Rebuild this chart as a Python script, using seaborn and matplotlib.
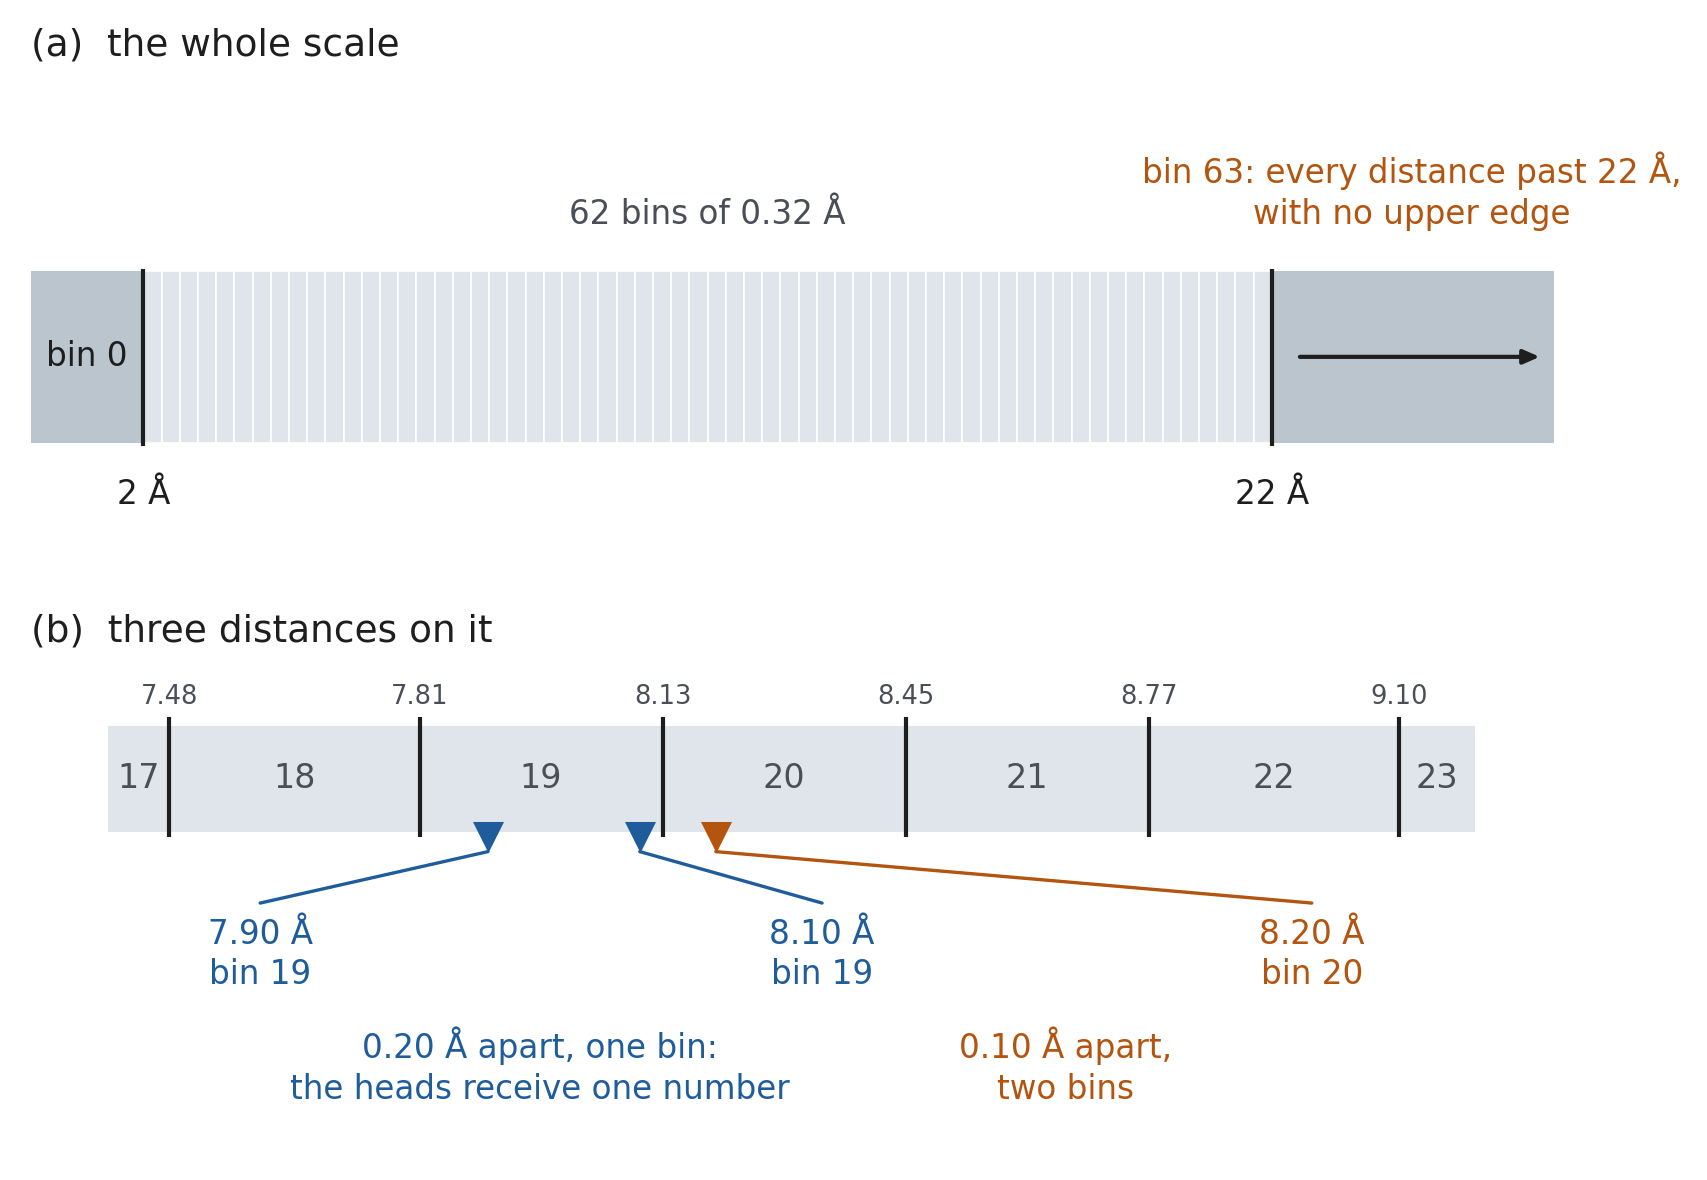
import matplotlib
matplotlib.use("Agg")
import matplotlib.pyplot as plt
import seaborn as sns
from matplotlib.patches import Rectangle

sns.set_theme(style="white")
plt.rcParams['font.family'] = ['DejaVu Sans']

# ---- data ----
lo_edge = 2.0
hi_edge = 22.0
n_inner_bins = 62
bin_width = (hi_edge - lo_edge) / n_inner_bins
zoom_bins = [17, 18, 19, 20, 21, 22, 23]
zoom_edges = [7.48, 7.81, 8.13, 8.45, 8.77, 9.10]
edge_labels = ["7.48", "7.81", "8.13", "8.45", "8.77", "9.10"]
distances = [7.90, 8.10, 8.20]
dist_bins = [19, 19, 20]
dist_label_x = [7.60, 8.34, 8.985]

BLUE = "#1f5c9c"
ORANGE = "#b3540f"
DARK = "#1e1e1e"
GRAY = "#4a4f57"
LIGHT = "#dfe5ea"
MID = "#bac5cd"
dcol = [BLUE, BLUE, ORANGE]

W, H = 1560, 1078  # layout coordinate frame
fig = plt.figure(figsize=(17.07, 11.8), dpi=100)
FS = 23.5

def px_axes(x0, x1, y0, y1):
    ax = fig.add_axes([x0 / W, 1 - y1 / H, (x1 - x0) / W, (y1 - y0) / H])
    ax.set_ylim(y1, y0)
    ax.axis("off")
    return ax

# ---- panel (a) ----
fig.text(28 / W, 1 - 42 / H, "(a)  the whole scale", fontsize=27, color=DARK, va="center")
axa = px_axes(28, 1420, 100, 480)
axa.set_xlim(0, 27)
top, bot = 248, 405
axa.add_patch(Rectangle((0, top), lo_edge, bot - top, fc=MID, ec="none"))
axa.add_patch(Rectangle((hi_edge, top), 27 - hi_edge, bot - top, fc=MID, ec="none"))
for i in range(n_inner_bins):
    axa.add_patch(Rectangle((lo_edge + i * bin_width, top), bin_width, bot - top,
                            fc=LIGHT, ec="white", lw=1.2))
for e in (lo_edge, hi_edge):
    axa.plot([e, e], [top - 2, bot + 2], color=DARK, lw=3, solid_capstyle="butt")
axa.annotate("", xy=(26.8, 326), xytext=(22.45, 326),
             arrowprops=dict(arrowstyle="-|>,head_length=0.8,head_width=0.35", color=DARK, lw=3))
axa.text(1.0, 326, "bin 0", fontsize=FS, color=DARK, ha="center", va="center")
axa.text(lo_edge, 452, "2 Å", fontsize=FS, color=DARK, ha="center", va="center")
axa.text(hi_edge, 452, "22 Å", fontsize=FS, color=DARK, ha="center", va="center")
axa.text(12.0, 196, "62 bins of 0.32 Å", fontsize=FS, color=GRAY, ha="center", va="center")
axa.text(24.48, 175, "bin 63: every distance past 22 Å,\nwith no upper edge", fontsize=FS,
         color=ORANGE, ha="center", va="center", linespacing=1.3)

# ---- panel (b) ----
fig.text(28 / W, 1 - 577 / H, "(b)  three distances on it", fontsize=27, color=DARK, va="center")
axb = px_axes(99, 1348, 610, 1060)
axb.set_xlim(7.40, 9.20)
top, bot = 663, 760
axb.add_patch(Rectangle((7.40, top), 1.80, bot - top, fc=LIGHT, ec="none"))
bounds = [7.40] + zoom_edges + [9.20]
for b, l, r in zip(zoom_bins, bounds[:-1], bounds[1:]):
    axb.text((l + r) / 2, 711, str(b), fontsize=24, color=GRAY, ha="center", va="center")
for e, lab in zip(zoom_edges, edge_labels):
    axb.plot([e, e], [655, 765], color=DARK, lw=3, solid_capstyle="butt")
    axb.text(e, 637, lab, fontsize=18.5, color=GRAY, ha="center", va="center")
for d, bn, c, lx in zip(distances, dist_bins, dcol, dist_label_x):
    axb.scatter([d], [765], marker="v", s=500, color=c, zorder=5, linewidths=0)
    axb.plot([d, lx], [778, 825], color=c, lw=2.4)
    axb.text(lx, 872, f"{d:.2f} Å\nbin {bn}", fontsize=FS, color=c, ha="center",
             va="center", linespacing=1.3)
axb.text(7.969, 974, "0.20 Å apart, one bin:\nthe heads receive one number", fontsize=FS,
         color=BLUE, ha="center", va="center", linespacing=1.3)
axb.text(8.661, 974, "0.10 Å apart,\ntwo bins", fontsize=FS, color=ORANGE,
         ha="center", va="center", linespacing=1.3)

fig.savefig("out.png", dpi=100, facecolor="white")
